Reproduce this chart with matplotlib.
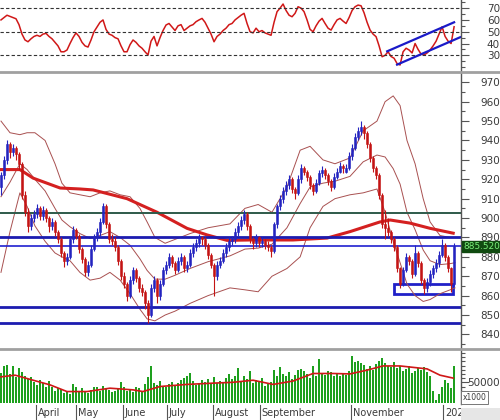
import numpy as np
import matplotlib
matplotlib.use('Agg')
import matplotlib.pyplot as plt
from matplotlib.patches import Rectangle
from matplotlib.ticker import MultipleLocator, FixedLocator
import matplotlib.transforms as mtransforms

# daily prices (open / high / low / close)
opens = [916, 922, 930, 938, 934, 936, 933, 928, 912, 903,
         896, 900, 902, 905, 901, 904, 900, 896, 898, 893,
         889, 882, 878, 880, 889, 894, 891, 884, 879, 872,
         876, 884, 890, 893, 898, 906, 897, 889, 888, 885,
         878, 870, 866, 860, 868, 873, 869, 864, 862, 856,
         850, 864, 868, 860, 866, 873, 876, 880, 877, 873,
         878, 880, 874, 876, 882, 885, 887, 890, 889, 886,
         881, 876, 870, 876, 878, 882, 885, 888, 889, 893,
         896, 899, 902, 896, 889, 887, 890, 887, 888, 886,
         885, 883, 897, 906, 910, 914, 917, 920, 915, 913,
         920, 926, 924, 921, 917, 914, 918, 923, 925, 922,
         919, 916, 921, 924, 927, 924, 926, 932, 936, 942,
         945, 947, 944, 938, 931, 926, 922, 912, 897, 895,
         893, 889, 885, 874, 866, 873, 880, 878, 871, 882,
         877, 868, 864, 867, 871, 874, 877, 881, 886, 880,
         874, 866]
highs = [924, 932, 940, 939, 938, 937, 934, 929, 914, 905,
         902, 904, 907, 906, 906, 905, 901, 900, 899, 894,
         890, 883, 882, 890, 896, 895, 892, 885, 880, 878,
         886, 892, 895, 900, 908, 907, 898, 892, 890, 886,
         879, 872, 867, 870, 875, 874, 870, 866, 863, 858,
         866, 870, 869, 868, 875, 878, 882, 881, 878, 880,
         882, 881, 878, 884, 887, 889, 892, 891, 890, 887,
         882, 877, 878, 880, 884, 887, 890, 891, 895, 898,
         901, 904, 903, 897, 890, 892, 891, 890, 889, 888,
         886, 898, 907, 912, 916, 919, 922, 921, 916, 922,
         928, 927, 925, 922, 918, 920, 925, 927, 926, 923,
         920, 923, 926, 929, 928, 928, 934, 938, 944, 947,
         950, 948, 945, 939, 932, 927, 923, 913, 904, 900,
         894, 890, 886, 875, 875, 882, 881, 879, 886, 883,
         878, 869, 869, 873, 876, 879, 883, 889, 887, 881,
         875, 887]
lows = [912, 920, 928, 931, 932, 930, 925, 910, 901, 893,
        894, 898, 900, 899, 899, 898, 893, 894, 891, 887,
        880, 875, 876, 879, 887, 889, 882, 877, 870, 870,
        875, 883, 888, 891, 897, 895, 887, 886, 883, 876,
        868, 864, 857, 859, 866, 867, 862, 860, 853, 846,
        849, 862, 856, 858, 865, 871, 874, 875, 871, 872,
        876, 872, 872, 875, 880, 883, 885, 886, 884, 879,
        874, 860, 868, 874, 877, 880, 883, 886, 887, 891,
        894, 897, 894, 887, 884, 885, 885, 885, 884, 883,
        880, 882, 895, 904, 908, 912, 915, 913, 910, 912,
        918, 922, 919, 915, 912, 913, 917, 921, 920, 917,
        914, 915, 920, 923, 923, 923, 925, 930, 935, 940,
        943, 941, 936, 929, 924, 920, 910, 895, 889, 891,
        887, 883, 872, 864, 865, 872, 876, 869, 870, 875,
        866, 861, 862, 865, 869, 872, 875, 880, 878, 872,
        862, 865]
closes = [922, 930, 938, 934, 936, 933, 928, 912, 903, 896,
          900, 902, 905, 901, 904, 900, 896, 898, 893, 889,
          882, 878, 880, 889, 894, 891, 884, 879, 872, 876,
          884, 890, 893, 898, 906, 897, 889, 888, 885, 878,
          870, 866, 860, 868, 873, 869, 864, 862, 856, 850,
          864, 868, 860, 866, 873, 876, 880, 877, 873, 878,
          880, 874, 876, 882, 885, 887, 890, 889, 886, 881,
          876, 870, 876, 878, 882, 885, 888, 889, 893, 896,
          899, 902, 896, 889, 887, 890, 887, 888, 886, 885,
          883, 897, 906, 910, 914, 917, 920, 915, 913, 920,
          926, 924, 921, 917, 914, 918, 923, 925, 922, 919,
          916, 921, 924, 927, 926, 926, 932, 936, 942, 945,
          947, 944, 938, 931, 926, 922, 912, 897, 895, 893,
          889, 885, 874, 866, 873, 880, 878, 871, 882, 877,
          868, 864, 867, 871, 874, 877, 881, 886, 880, 874,
          866, 885.52]

# volume, thousands of shares
volume = [72, 88, 91, 70, 90, 62, 85, 74, 66, 58,
          62, 50, 44, 56, 48, 40, 52, 38, 30, 36,
          34, 25, 28, 22, 45, 40, 30, 36, 28, 24,
          32, 40, 38, 30, 42, 36, 32, 26, 30, 35,
          50, 38, 30, 34, 28, 40, 36, 30, 45, 62,
          88, 48, 44, 52, 40, 38, 46, 50, 42, 48,
          55, 60, 65, 72, 52, 44, 48, 56, 50, 58,
          46, 62, 48, 54, 50, 60, 70, 58, 64, 83,
          52, 66, 58, 77, 48, 56, 52, 60, 42, 46,
          50, 80, 64, 86, 70, 66, 74, 58, 68, 80,
          82, 76, 70, 60, 90, 65, 106, 72, 68, 78,
          74, 66, 70, 64, 72, 68, 78, 113, 98, 100,
          96, 92, 82, 88, 80, 94, 100, 108, 96, 90,
          86, 98, 84, 90, 78, 82, 88, 72, 76, 84,
          80, 86, 74, 64, 30, 8, 22, 40, 55, 48,
          36, 89]

rsi = [60, 62, 64, 63, 62, 61, 56, 48, 43, 41.5,
       44, 46, 47, 46, 48, 48.6, 46, 44, 41, 38,
       33, 33, 34.5, 40, 45, 49, 46, 41, 38, 37,
       43, 50, 54, 58, 60, 52, 48, 47, 45, 44,
       38, 33, 33, 39, 43, 41, 38, 36, 33, 30.3,
       42, 46, 38, 45, 51, 55.7, 57, 54, 51, 55,
       56, 51, 53, 55, 56, 58.5, 60, 61.3, 58, 53,
       48, 41.5, 46, 48, 51, 53, 56, 57, 60, 62,
       64, 65.6, 57, 50, 49, 53, 50, 51, 49, 48,
       47, 58, 67, 70, 73.5, 68, 64, 62.7, 65.6, 71.2,
       70, 67, 60, 52, 50, 55, 59, 61.3, 57, 53,
       51.4, 56, 60, 61.3, 59, 57, 62, 68, 71.2, 72.6,
       72, 66, 58, 51.4, 48, 45.8, 38, 28.8, 30, 33,
       29, 27.5, 23, 21.8, 33, 36, 34.5, 32, 40, 35,
       31, 30.3, 32, 34.5, 38, 42, 48, 54.2, 46, 42,
       40, 54.2]

# indicator lines, sampled at bar positions
band_x = [0, 3, 6.3, 8.7, 11.3, 14.7, 18, 20.3, 23, 26.3, 29.7, 33, 36.3, 39.7,
          43, 46.3, 48.7, 51.3, 54.7, 58, 63, 69, 76.3, 81.3, 85.7, 90.3, 95.3,
          99.7, 103, 107.3, 111.3, 116.3, 120.7, 125.3, 128, 130.7, 133, 135.3,
          138, 140.7, 143, 146.3, 149.7, 151.3]
band_up = [950, 944, 943, 944, 944, 940, 928, 918, 913, 912, 911, 913, 914, 912,
           911, 905, 898, 890, 887, 889, 892, 895, 897, 905, 907, 903, 916,
           935, 937, 930, 928, 931, 945, 950, 960, 963, 958, 940,
           928, 910, 898, 891, 890, 890]
band_lo = [872, 893, 913, 906, 896, 888, 882, 880, 878, 872, 868, 869, 872, 868,
           861, 853, 848, 847, 850, 852, 856, 860, 864, 863, 862, 870, 874,
           880, 895, 906, 910, 912, 913, 915, 903, 888, 877, 866,
           860, 857, 858, 861, 863, 864]
band_mid = [911, 918.5, 928, 925, 920, 914, 905, 899, 895.5, 892, 889.5, 891, 893, 890,
            886, 879, 873, 868.5, 868.5, 870.5, 874, 877.5, 880.5, 884, 884.5, 886.5, 895,
            907.5, 916, 918, 919, 921.5, 929, 932.5, 931.5, 925.5, 917.5, 903,
            894, 883.5, 878, 876, 876.5, 877]

ma_x = [0, 6.3, 10.7, 19.7, 26.3, 30.7, 42, 52, 62, 68.7, 75.3, 83, 97.3, 108.7,
        116.3, 126.3, 129.7, 136.3, 143, 150.7]
ma_long = [925, 925, 920.6, 915.5, 915, 914.5, 910, 903, 894.7, 891.3, 888.5, 888.7,
           888.7, 889.7, 893, 898, 899, 897.4, 894.7, 892.2]

vol_ma_x = [0, 4.7, 10.7, 16.3, 22, 28.7, 36.3, 44, 47.3, 53, 62, 70.7, 77.3, 84,
            90.7, 97.3, 104, 110.7, 116.3, 122, 127.3, 133, 142, 146.3, 150.7]
vol_ma = [63, 67, 55, 44, 28, 28, 36, 32, 28, 40, 45, 48, 50, 55,
          45, 53, 71, 71, 70, 79, 89, 89, 82, 67, 60]

months = ['April', 'May', 'June', 'July', 'August', 'September', 'November', '202']
month_pos = [11.67, 25, 40.67, 55.33, 70.67, 86.33, 116.67, 147.33]

x = np.arange(len(closes))
opens = np.array(opens, float)
closes = np.array(closes, float)
up = closes >= opens
blue = '#2424c0'
red = '#c41414'
txt = '#3a3a3a'

fig = plt.figure(figsize=(5, 4.2), dpi=100)
fig.patch.set_facecolor('white')
W = 461 / 500
ax_rsi = fig.add_axes([0, 349 / 420, W, 71 / 420])
ax = fig.add_axes([0, 72 / 420, W, 275 / 420])
ax_vol = fig.add_axes([0, 16 / 420, W, 54 / 420])

xlim = (-0.33, 153.3)


def style(a, major, minor, pad):
    a.set_xlim(*xlim)
    for s in ['left', 'top', 'bottom']:
        a.spines[s].set_visible(False)
    a.spines['right'].set_color('#555555')
    a.spines['right'].set_linewidth(1)
    a.yaxis.tick_right()
    a.set_xticks([])
    a.yaxis.set_major_locator(major)
    if minor is not None:
        a.yaxis.set_minor_locator(minor)
    a.tick_params(axis='y', which='major', length=6, width=0.8, color='#555555',
                  labelsize=7.5, labelcolor=txt, pad=pad)
    a.tick_params(axis='y', which='minor', length=3, width=0.8, color='#555555')
    for lab in a.get_yticklabels():
        lab.set_horizontalalignment('right')


# RSI panel
ax_rsi.plot(x, rsi, color='#d01818', lw=1.1)
for lvl in [30, 50, 70]:
    ax_rsi.axhline(lvl, color='#333333', lw=0.8, ls=(0, (3, 2)))
ax_rsi.plot([128.7, 151], [33.4, 58], color='#1a1ac8', lw=1.6)
ax_rsi.plot([132, 153], [22.1, 45.3], color='#1a1ac8', lw=1.6)
ax_rsi.set_ylim(16.7, 76.9)
style(ax_rsi, FixedLocator([30, 40, 50, 60, 70]), MultipleLocator(5), 22)

# price panel
ax.plot(band_x, band_up, color='#a85050', lw=0.7)
ax.plot(band_x, band_mid, color='#a85050', lw=0.7)
ax.plot(band_x, band_lo, color='#a85050', lw=0.7)
ax.plot(ma_x, ma_long, color='#d42020', lw=2.2)

ax.axhline(902.5, color='#2e5a4a', lw=1.4)
ax.axhline(890, color='#1c1cb0', lw=2)
ax.axhline(885.52, color='#2020d0', lw=1.2)
ax.axhline(854.2, color='#1c1cb0', lw=2)
ax.axhline(845.8, color='#1c1cb0', lw=2)
ax.add_patch(Rectangle((131, 861), 19.7, 5, fill=False, edgecolor='#2020c8', lw=2))

colors = np.where(up, blue, red)
ax.vlines(x, lows, highs, color=colors, lw=0.8, zorder=3)
body = np.where(np.abs(closes - opens) < 0.8, 0.8, closes - opens)
ax.bar(x, body, bottom=opens, width=0.7, color=colors, edgecolor=colors, lw=0.4, zorder=3)

ax.set_ylim(833.0, 974.8)
style(ax, MultipleLocator(10), MultipleLocator(5), 22)
ax.text(463.5 / 461, 885.52, '885.520',
        transform=mtransforms.blended_transform_factory(ax.transAxes, ax.transData),
        ha='left', va='center', fontsize=6.4, color='#7cf07c', clip_on=False, zorder=10,
        bbox=dict(boxstyle='square,pad=0.12', fc='#104a10', ec='#104a10'))

# volume panel
ax_vol.bar(x, np.array(volume) * 1000, width=0.6, color='#1ea01e', edgecolor='none')
ax_vol.plot(vol_ma_x, np.array(vol_ma) * 1000, color='#d01818', lw=1.2)
ax_vol.set_ylim(-1700, 127000)
style(ax_vol, FixedLocator([50000]), MultipleLocator(10000), 22)
ax_vol.text(463 / 461, 0.12, 'x1000', transform=ax_vol.transAxes, ha='left', va='center',
            fontsize=5.5, color=txt, clip_on=False,
            bbox=dict(boxstyle='square,pad=0.2', fc='white', ec='#777777', lw=0.7))

# month markers under the volume bars
trans = mtransforms.blended_transform_factory(ax_vol.transData, ax_vol.transAxes)
for pos, name in zip(month_pos, months):
    ax_vol.plot([pos, pos], [-0.01, -0.3], color='#555555', lw=0.8, transform=trans, clip_on=False)
    ax_vol.text(pos + 0.6, -0.16, name, transform=trans, ha='left', va='center',
                fontsize=7, color=txt, clip_on=False)

# panel separators and corner
for yy in [71.5, 348.5]:
    fig.add_artist(plt.Line2D([0, 1], [1 - yy / 420, 1 - yy / 420], color='#a0a0a0', lw=2))
fig.add_artist(Rectangle((W, 0), 1 - W, 12 / 420, transform=fig.transFigure,
                         fc='#e6e6e6', ec='none'))

fig.savefig('out.png', dpi=100)
